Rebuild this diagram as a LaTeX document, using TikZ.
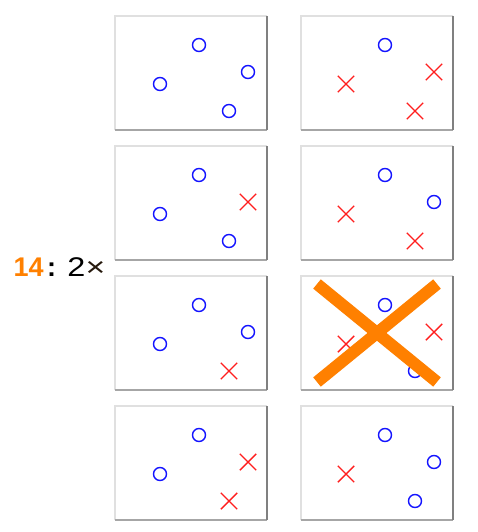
\documentclass[tikz,border=0pt]{standalone}
\usepackage{fontspec}
\setmainfont{Liberation Sans}
\usetikzlibrary{shapes.misc}
\definecolor{xorange}{RGB}{255,128,0}
\definecolor{xblue}{RGB}{20,20,255}
\definecolor{xred}{RGB}{255,30,30}
\tikzset{
  pto/.style={circle, draw=xblue, line width=1.4pt, minimum size=13pt, inner sep=0pt},
  ptx/.style={cross out, draw=xred, line width=1.4pt, minimum size=15pt, inner sep=0pt},
  labtxt/.style={inner sep=0pt, font=\fontsize{27}{32}\selectfont},
}
\newcommand{\mypanel}[6]{%
  \begin{scope}[shift={(#1,#2)}]
    \fill[white] (0,0) rectangle (152,114);
    \draw[line width=1.6pt, black!12] (0,114) -- (0,0) -- (152,0);
    \draw[line width=1.4pt, black!35] (0,114) -- (152,114);
    \draw[line width=1.6pt, black!50] (152,0) -- (152,114);
    \node[#3] (p#1#2a) at (84,29) {};
    \node[#4] (p#1#2b) at (45,68) {};
    \node[#5] (p#1#2c) at (133,56) {};
    \node[#6] (p#1#2d) at (114,95) {};
  \end{scope}}
\begin{document}
\begin{tikzpicture}[x=1pt,y=-1pt]
\useasboundingbox (0,0) rectangle (478,532);
\fill[white] (0,0) rectangle (478,532);
\mypanel{115}{16}{pto}{pto}{pto}{pto}
\mypanel{301}{16}{pto}{ptx}{ptx}{ptx}
\mypanel{115}{146}{pto}{pto}{ptx}{pto}
\mypanel{301}{146}{pto}{ptx}{pto}{ptx}
\mypanel{115}{276}{pto}{pto}{pto}{ptx}
\mypanel{301}{276}{pto}{ptx}{ptx}{pto}
\mypanel{115}{406}{pto}{pto}{ptx}{ptx}
\mypanel{301}{406}{pto}{ptx}{pto}{pto}
\draw[xorange, line width=12pt] (317,284) -- (437,382);
\draw[xorange, line width=12pt] (317,382) -- (437,284);
\node[labtxt, anchor=base west, text=xorange, font=\fontsize{27}{32}\selectfont\bfseries] (lab14) at (13.5,276) {14};
\node[labtxt, anchor=base, font=\fontsize{27}{32}\selectfont\bfseries] (labcolon) at (51.5,276) {:};
\node[labtxt, anchor=base, xscale=1.2] (lab2) at (76.5,276) {2};
\node[labtxt, text=black!80!brown, font=\fontsize{27}{32}\selectfont, xscale=1.25] (labx) at (95.5,268.5) {×};
\end{tikzpicture}
\end{document}
